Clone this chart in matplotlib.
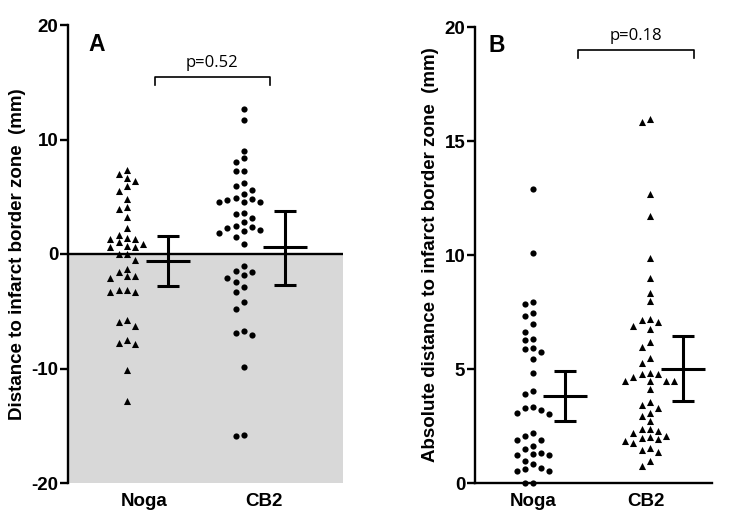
import numpy as np
import matplotlib
matplotlib.use("Agg")
import matplotlib.pyplot as plt

# ---------------- data ----------------
categories = ["Noga", "CB2"]

# Panel A: signed distance to infarct border zone (mm)
a_noga = [7.36, 7.0, 6.64, 6.34, 5.9, 5.47, 4.8, 3.93, 4.1, 3.23, 2.24, 1.69,
          1.40, 1.34, 1.01, 1.31, 0.87, 0.67, 0.58, 0.61, 0.0, 0.0, -0.56,
          -1.28, -1.57, -1.95, -2.1, -1.9, -3.18, -3.35, -3.35, -3.12, -5.91,
          -5.74, -6.32, -7.48, -7.86, -7.8, -10.1, -12.87]
a_cb2 = [12.66, 11.73, 9.02, 8.35, 8.0, 7.25, 7.25, 5.97, 6.2, 5.56, 5.27,
         4.89, 4.74, 4.54, 4.54, 4.54, 4.83, 3.52, 3.58, 3.17, 2.76, 2.38,
         2.1, 1.83, 1.97, 2.27, 2.45, 1.51, 0.87, -1.02, -1.87, -2.1, -1.55,
         -1.52, -2.48, -2.92, -3.35, -4.19, -4.8, -6.7, -7.05, -6.93, -9.87,
         -15.93, -15.84]

# Panel B: absolute distance (mm)
b_noga = [12.89, 10.07, 7.94, 7.85, 7.34, 7.44, 6.97, 6.64, 6.27, 6.33, 5.91,
          5.88, 5.73, 5.44, 4.81, 3.89, 4.05, 3.29, 3.06, 3.03, 3.2, 3.32,
          2.21, 1.89, 2.06, 1.89, 1.64, 1.49, 1.33, 1.23, 1.23, 1.29, 0.96,
          0.64, 0.54, 0.53, 0.6, 0.82, 0.0, 0.0]
b_cb2 = [15.85, 15.95, 12.66, 11.72, 9.86, 9.0, 8.32, 7.97, 7.19, 7.05, 7.15,
         6.9, 6.74, 6.17, 5.95, 5.5, 5.25, 4.78, 4.64, 4.78, 4.81, 4.49, 4.47,
         4.47, 4.47, 4.12, 3.3, 3.42, 3.54, 3.08, 2.94, 2.72, 2.37, 2.29,
         2.18, 2.37, 2.0, 1.92, 1.77, 1.86, 1.96, 2.07, 1.45, 1.37, 1.55,
         0.76, 0.96]

# mean and 95% CI
a_mean = [-0.58, 0.58]
a_ci_low = [-2.83, -2.68]
a_ci_high = [1.54, 3.78]
b_mean = [3.83, 5.0]
b_ci_low = [2.72, 3.61]
b_ci_high = [4.93, 6.45]

a_p_text = "p=0.52"
b_p_text = "p=0.18"
a_ylabel = "Distance to infarct border zone  (mm)"
b_ylabel = "Absolute distance to infarct border zone  (mm)"
a_yticks = [-20, -10, 0, 10, 20]
b_yticks = [0, 5, 10, 15, 20]

# ---------------- styling ----------------
plt.rcParams['font.family'] = ['Liberation Sans', 'DejaVu Sans']
W, H = 742, 524
fig = plt.figure(figsize=(W / 100, H / 100), dpi=100)

LW_SPINE = 1.7
LW_BAR = 2.2


def fx(px):
    return px / W


def fy(py):
    return 1 - py / H


def swarm_x(ax, values, xc, step_px=8.2, thresh_px=7.6):
    vals = np.asarray(values, float)
    ypx = ax.transData.transform(np.column_stack([np.full_like(vals, xc), vals]))[:, 1]
    p = ax.transData.transform([(0, 0), (1, 0)])
    pxu = p[1, 0] - p[0, 0]
    order = np.argsort(-vals, kind="stable")
    cand = [0]
    for j in range(1, 12):
        cand += [-j, j]
    placed = []
    cols = np.zeros(len(vals))
    for i in order:
        for c in cand:
            if all(not (pc == c and abs(py - ypx[i]) < thresh_px) for pc, py in placed):
                break
        placed.append((c, ypx[i]))
        cols[i] = c
    return xc + cols * step_px / pxu


def err_bar(ax, x, m, lo, hi, pxu):
    hw = 22 / pxu
    cw = 11 / pxu
    ax.vlines(x, lo, hi, color='black', lw=LW_BAR, zorder=4)
    ax.hlines(m, x - hw, x + hw, color='black', lw=LW_BAR, zorder=4)
    ax.hlines([lo, hi], x - cw, x + cw, color='black', lw=LW_BAR, zorder=4)


def style_axis(ax, yticks, bottom_spine):
    for s in ['top', 'right']:
        ax.spines[s].set_visible(False)
    ax.spines['left'].set_linewidth(LW_SPINE)
    ax.spines['bottom'].set_linewidth(LW_SPINE)
    ax.spines['bottom'].set_visible(bottom_spine)
    ax.set_yticks(yticks)
    ax.set_yticklabels([str(t) for t in yticks], fontweight='bold', fontsize=13.5)
    ax.tick_params(axis='y', direction='out', length=6, width=LW_SPINE, pad=1)
    ax.tick_params(axis='x', length=0, pad=7)
    ax.set_xticks([1, 2])
    ax.set_xticklabels(categories, fontweight='bold', fontsize=13.5)


def bracket(ax, x0, x1, y, drop, text, ty):
    ax.plot([x0, x0, x1, x1], [y - drop, y, y, y - drop], color='black', lw=1.2,
            clip_on=False, zorder=5)
    ax.text((x0 + x1) / 2, ty, text, ha='center', va='bottom', fontsize=12,
            family=['Open Sans', 'DejaVu Sans'], clip_on=False)


# ---------------- Panel A ----------------
axA = fig.add_axes([fx(68), fy(483), fx(343 - 68), (483 - 25) / H])
axA.set_xlim(0.367, 2.66)
axA.set_ylim(-20, 20)
axA.axhspan(-20, 0, color='#d8d8d8', zorder=0, lw=0)
axA.axhline(0, color='black', lw=LW_SPINE, zorder=2)
style_axis(axA, a_yticks, bottom_spine=False)
axA.set_ylabel(a_ylabel, fontweight='bold', fontsize=13.5, labelpad=4)
pA = axA.transData.transform([(0, 0), (1, 0)])
pxuA = pA[1, 0] - pA[0, 0]

ptsA = [(a_noga, 0.858, '^', 26), (a_cb2, 1.833, 'o', 20)]
for vals, xc, mk, sz in ptsA:
    xs = swarm_x(axA, vals, xc)
    axA.scatter(xs, vals, marker=mk, s=sz, color='black', lw=0, zorder=3)
for i, xe in enumerate([1.2, 2.175]):
    err_bar(axA, xe, a_mean[i], a_ci_low[i], a_ci_high[i], pxuA)
bracket(axA, 1.09, 2.05, 15.5, 0.7, a_p_text, 16.0)
axA.text(0.105, 0.957, "A", transform=axA.transAxes, fontsize=16.5,
         fontweight='bold', ha='center', va='center')

# ---------------- Panel B ----------------
axB = fig.add_axes([fx(475), fy(483), fx(712 - 475), (483 - 27) / H])
axB.set_xlim(0.487, 2.58)
axB.set_ylim(0, 20)
style_axis(axB, b_yticks, bottom_spine=True)
axB.set_ylabel(b_ylabel, fontweight='bold', fontsize=13.5, labelpad=4)
pB = axB.transData.transform([(0, 0), (1, 0)])
pxuB = pB[1, 0] - pB[0, 0]

ptsB = [(b_noga, 1.0, 'o', 20), (b_cb2, 2.03, '^', 26)]
for vals, xc, mk, sz in ptsB:
    xs = swarm_x(axB, vals, xc)
    axB.scatter(xs, vals, marker=mk, s=sz, color='black', lw=0, zorder=3,
                clip_on=False)
for i, xe in enumerate([1.28, 2.32]):
    err_bar(axB, xe, b_mean[i], b_ci_low[i], b_ci_high[i], pxuB)
bracket(axB, 1.4, 2.42, 19.0, 0.35, b_p_text, 19.25)
axB.text(0.093, 0.96, "B", transform=axB.transAxes, fontsize=16.5,
         fontweight='bold', ha='center', va='center')

fig.savefig("out.png", dpi=100)
